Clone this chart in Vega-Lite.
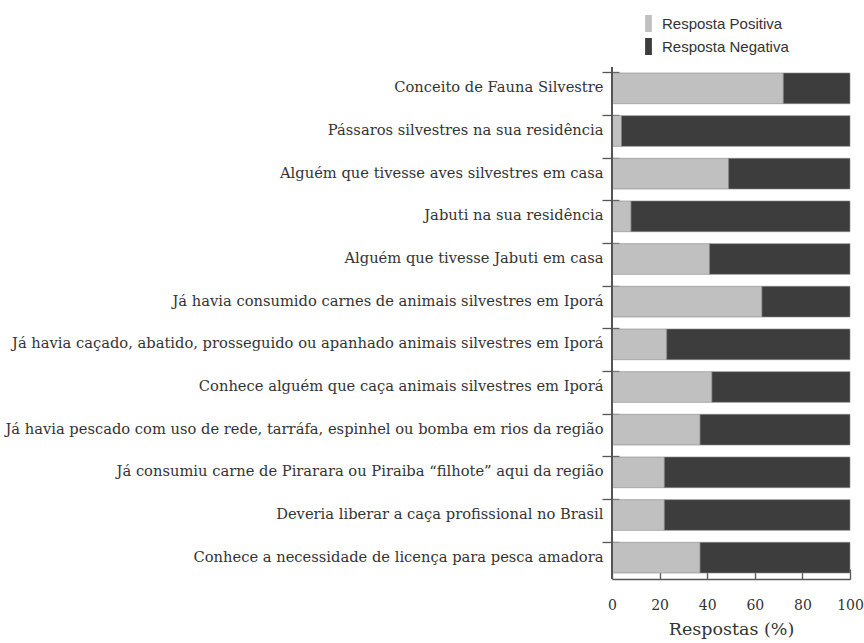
{
  "$schema": "https://vega.github.io/schema/vega-lite/v6.json",
  "autosize": "none",
  "width": 238,
  "height": 512,
  "padding": {"left": 612, "top": 67, "right": 14, "bottom": 64},
  "background": "white",
  "data": {
    "values": [
      {"pergunta": "Conceito de Fauna Silvestre", "resposta": "Resposta Positiva", "valor": 72, "ordem": 1},
      {"pergunta": "Conceito de Fauna Silvestre", "resposta": "Resposta Negativa", "valor": 28, "ordem": 2},
      {"pergunta": "Pássaros silvestres na sua residência", "resposta": "Resposta Positiva", "valor": 4, "ordem": 1},
      {"pergunta": "Pássaros silvestres na sua residência", "resposta": "Resposta Negativa", "valor": 96, "ordem": 2},
      {"pergunta": "Alguém que tivesse aves silvestres em casa", "resposta": "Resposta Positiva", "valor": 49, "ordem": 1},
      {"pergunta": "Alguém que tivesse aves silvestres em casa", "resposta": "Resposta Negativa", "valor": 51, "ordem": 2},
      {"pergunta": "Jabuti na sua residência", "resposta": "Resposta Positiva", "valor": 8, "ordem": 1},
      {"pergunta": "Jabuti na sua residência", "resposta": "Resposta Negativa", "valor": 92, "ordem": 2},
      {"pergunta": "Alguém que tivesse Jabuti em casa", "resposta": "Resposta Positiva", "valor": 41, "ordem": 1},
      {"pergunta": "Alguém que tivesse Jabuti em casa", "resposta": "Resposta Negativa", "valor": 59, "ordem": 2},
      {"pergunta": "Já havia consumido carnes de animais silvestres em Iporá", "resposta": "Resposta Positiva", "valor": 63, "ordem": 1},
      {"pergunta": "Já havia consumido carnes de animais silvestres em Iporá", "resposta": "Resposta Negativa", "valor": 37, "ordem": 2},
      {"pergunta": "Já havia caçado, abatido, prosseguido ou apanhado animais silvestres em Iporá", "resposta": "Resposta Positiva", "valor": 23, "ordem": 1},
      {"pergunta": "Já havia caçado, abatido, prosseguido ou apanhado animais silvestres em Iporá", "resposta": "Resposta Negativa", "valor": 77, "ordem": 2},
      {"pergunta": "Conhece alguém que caça animais silvestres em Iporá", "resposta": "Resposta Positiva", "valor": 42, "ordem": 1},
      {"pergunta": "Conhece alguém que caça animais silvestres em Iporá", "resposta": "Resposta Negativa", "valor": 58, "ordem": 2},
      {"pergunta": "Já havia pescado com uso de rede, tarráfa, espinhel ou bomba em rios da região", "resposta": "Resposta Positiva", "valor": 37, "ordem": 1},
      {"pergunta": "Já havia pescado com uso de rede, tarráfa, espinhel ou bomba em rios da região", "resposta": "Resposta Negativa", "valor": 63, "ordem": 2},
      {"pergunta": "Já consumiu carne de Pirarara ou Piraiba “filhote” aqui da região", "resposta": "Resposta Positiva", "valor": 22, "ordem": 1},
      {"pergunta": "Já consumiu carne de Pirarara ou Piraiba “filhote” aqui da região", "resposta": "Resposta Negativa", "valor": 78, "ordem": 2},
      {"pergunta": "Deveria liberar a caça profissional no Brasil", "resposta": "Resposta Positiva", "valor": 22, "ordem": 1},
      {"pergunta": "Deveria liberar a caça profissional no Brasil", "resposta": "Resposta Negativa", "valor": 78, "ordem": 2},
      {"pergunta": "Conhece a necessidade de licença para pesca amadora", "resposta": "Resposta Positiva", "valor": 37, "ordem": 1},
      {"pergunta": "Conhece a necessidade de licença para pesca amadora", "resposta": "Resposta Negativa", "valor": 63, "ordem": 2}
    ]
  },
  "config": {
    "view": {"stroke": null},
    "font": "DejaVu Serif"
  },
  "layer": [
    {
      "mark": {"type": "bar", "stroke": "#8a8a8a", "strokeWidth": 0.6},
      "encoding": {
        "y": {
          "field": "pergunta",
          "type": "nominal",
          "sort": null,
          "scale": {"paddingInner": 0.28, "paddingOuter": 0.14},
          "axis": {
            "title": null,
            "domain": false,
            "offset": -7,
            "bandPosition": 0,
            "tickSize": 17,
            "tickColor": "#555",
            "tickWidth": 1.3,
            "labelPadding": -1,
            "labelFont": "DejaVu Serif",
            "labelFontSize": 14.7,
            "labelColor": "#333",
            "labelLimit": 700
          }
        },
        "x": {
          "field": "valor",
          "type": "quantitative",
          "stack": "zero",
          "scale": {"domain": [0, 100], "nice": false},
          "axis": {
            "title": "Respostas (%)",
            "values": [0, 20, 40, 60, 80, 100],
            "grid": false,
            "tickSize": -10,
            "tickColor": "#555",
            "tickWidth": 1.3,
            "domainColor": "#555",
            "domainWidth": 1.3,
            "labelPadding": 29,
            "labelFlush": false,
            "labelFont": "DejaVu Serif",
            "labelFontSize": 14,
            "labelColor": "#333",
            "titleFont": "DejaVu Serif",
            "titleFontSize": 17.5,
            "titleFontWeight": "normal",
            "titleColor": "#333",
            "titlePadding": 8
          }
        },
        "color": {
          "field": "resposta",
          "type": "nominal",
          "scale": {"domain": ["Resposta Positiva", "Resposta Negativa"], "range": ["#c0c0c0", "#3d3d3d"]},
          "legend": {
            "title": null,
            "orient": "none",
            "legendX": 28,
            "legendY": -52,
            "symbolType": "M-0.4,-1H0.4V1H-0.4Z",
            "symbolSize": 289,
            "symbolStrokeWidth": 0,
            "labelFont": "Liberation Sans",
            "labelFontSize": 15,
            "labelColor": "#333",
            "labelOffset": 5,
            "rowPadding": 6
          }
        },
        "order": {"field": "ordem", "type": "quantitative"}
      }
    },
    {
      "mark": {"type": "rule", "color": "#555", "strokeWidth": 1.3},
      "encoding": {"x": {"datum": 0}}
    }
  ]
}
